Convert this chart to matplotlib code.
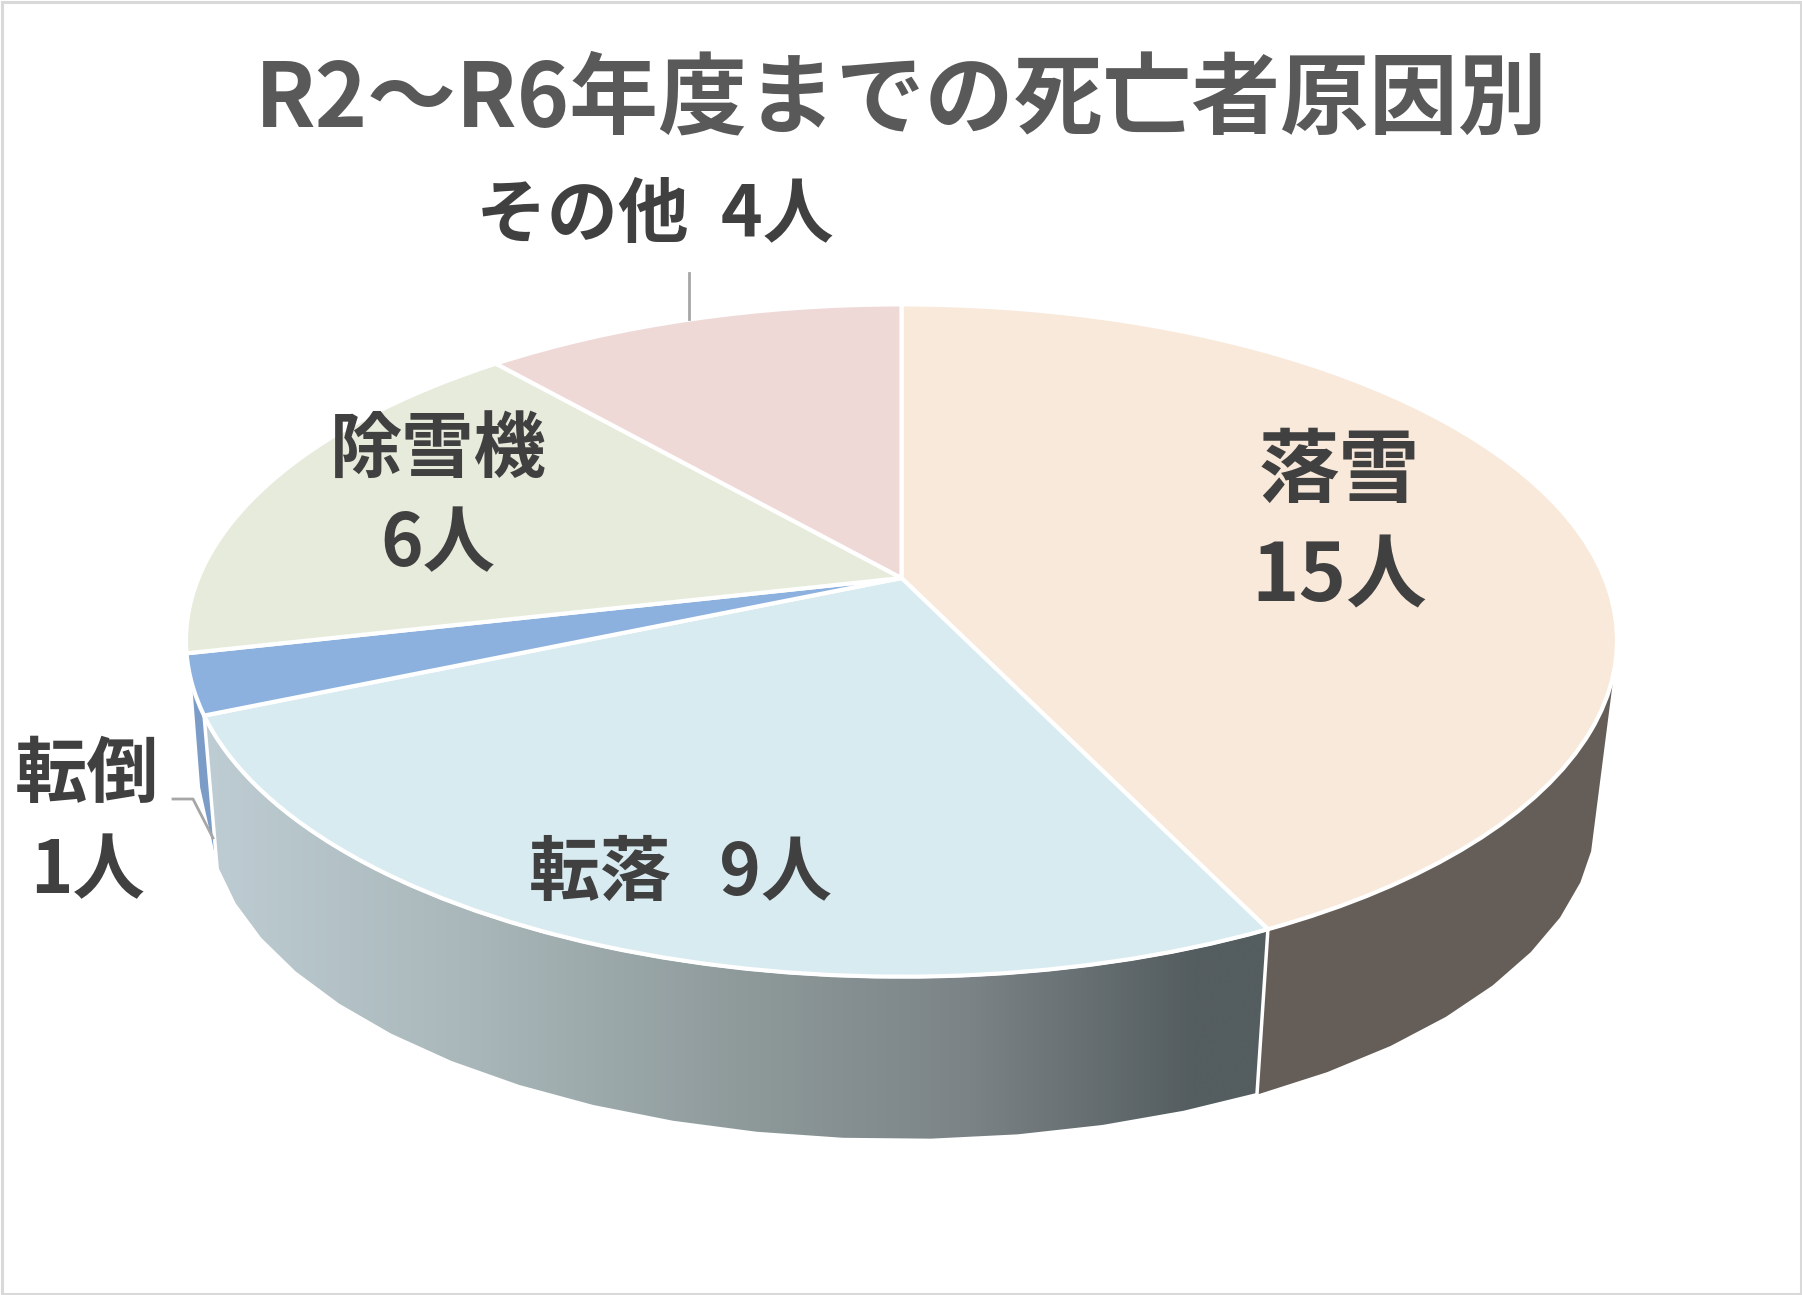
import numpy as np
import matplotlib
matplotlib.use("Agg")
import matplotlib.pyplot as plt
from matplotlib.colors import LinearSegmentedColormap
from matplotlib.patches import Polygon, Rectangle
from matplotlib.transforms import Transform

plt.rcParams['font.family'] = ['Noto Sans CJK JP', 'DejaVu Sans']

# ---- data ----
TITLE = "R2～R6年度までの死亡者原因別"
categories = ["落雪", "転落", "転倒", "除雪機", "その他"]
values = [15, 9, 1, 6, 4]
top_colors = ["#F9E9DA", "#D8EBF1", "#8CB1DF", "#E6EBDB", "#EED9D7"]

# ---- projection of the pie disc (figure pixels) ----
CX, CY, AX_, BY, K = 901.5, 578.0, 703.0, 324.5, 0.186
SCALE_LOW, CY_LOW = 0.97, 754.0


class DiscProjection(Transform):
    input_dims = output_dims = 2

    def transform_non_affine(self, xy):
        xy = np.asarray(xy, float)
        d = 1 + K * xy[:, 1]
        return np.column_stack((CX + AX_ * xy[:, 0] / d, CY - BY * xy[:, 1] / d))


def rim(theta_deg, low=False):
    t = np.radians(np.atleast_1d(theta_deg))
    u, v = np.sin(t), np.cos(t)
    d = 1 + K * v
    if low:
        return np.column_stack((CX + SCALE_LOW * AX_ * u / d, CY_LOW - SCALE_LOW * BY * v / d))
    return np.column_stack((CX + AX_ * u / d, CY - BY * v / d))


fig = plt.figure(figsize=(18.02, 12.95), dpi=100, facecolor="white")
ax = fig.add_axes([0, 0, 1, 1])

wedges, _ = ax.pie(values, startangle=90, counterclock=False, colors=top_colors,
                   wedgeprops=dict(edgecolor="white", linewidth=3.0, joinstyle="round"))
proj = DiscProjection()
for w in wedges:
    w.set_transform(proj + ax.transData)
    w.set_zorder(5)

cum = np.cumsum([0] + values) / sum(values) * 360

# ---- side walls ----
th_top = np.linspace(105, cum[1], 60)
th_low = np.arange(cum[1], 107, -6.0)
ax.add_patch(Polygon(np.vstack((rim(th_top), rim(th_low, True), rim(107, True))), closed=True,
                     facecolor="#655E58", edgecolor="none", zorder=2))

th_top = np.linspace(cum[1], cum[2], 120)
th_low = np.arange(250, cum[1], -6.0)
poly = np.vstack((rim(th_top), rim(th_low, True), rim(cum[1], True)))
wall = Polygon(poly, closed=True, facecolor="none", edgecolor="white", linewidth=2.5, zorder=3)
ax.add_patch(wall)
grad_pos = [0.0, 0.25, 0.5, 0.72, 0.93, 1.0]
grad_col = ["#BECDD3", "#A9B7BA", "#8F9B9B", "#7B8387", "#545D5F", "#545D5F"]
cmap = LinearSegmentedColormap.from_list("wall", list(zip(grad_pos, grad_col)))
x0, x1 = poly[:, 0].min(), poly[:, 0].max()
y0, y1 = poly[:, 1].min(), poly[:, 1].max()
im = ax.imshow(np.linspace(0, 1, 512)[None, :], cmap=cmap, extent=(x0, x1, y1, y0),
               aspect="auto", zorder=2, interpolation="bilinear")
im.set_clip_path(wall)

th = np.linspace(cum[2], 252, 12)
sliver = np.vstack((rim(th), rim(252) + [[8, 103]], rim(252) + [[24, 176]], rim(cum[2]) + [[14, 130]]))
ax.add_patch(Polygon(sliver, closed=True, facecolor="#7C9CC8", edgecolor="none", zorder=1.5))

# ---- leader lines ----
ax.plot([689, 689], [273, 319], color="#A6A6A6", lw=2.0, zorder=6)
ax.plot([173, 193, 213], [799, 799, 838], color="#A6A6A6", lw=2.0, zorder=6)

# ---- text ----
ax.text(901, 100, TITLE, ha="center", va="center", fontsize=64, fontweight="bold", color="#595959", zorder=7)
lab = dict(ha="center", va="center", fontweight="bold", color="#404040", zorder=7)
ax.text(1339, 525, f"{categories[0]}\n{values[0]}人", fontsize=58, linespacing=1.38, **lab)
ax.text(680, 874, f"{categories[1]}   {values[1]}人", fontsize=51, **lab)
ax.text(87, 824, f"{categories[2]}\n{values[2]}人", fontsize=52, linespacing=1.36, **lab)
ax.text(438, 498, f"{categories[3]}\n{values[3]}人", fontsize=52, linespacing=1.34, **lab)
ax.text(655, 216, f"{categories[4]}  {values[4]}人", fontsize=51, **lab)

ax.set_aspect("auto")
ax.set_xlim(0, 1802)
ax.set_ylim(1295, 0)
ax.axis("off")
ax.add_patch(Rectangle((1.5, 1.5), 1799, 1292, facecolor="none", edgecolor="#D9D9D9", linewidth=2.2, zorder=8))

fig.savefig("out.png", dpi=100, facecolor="white")
